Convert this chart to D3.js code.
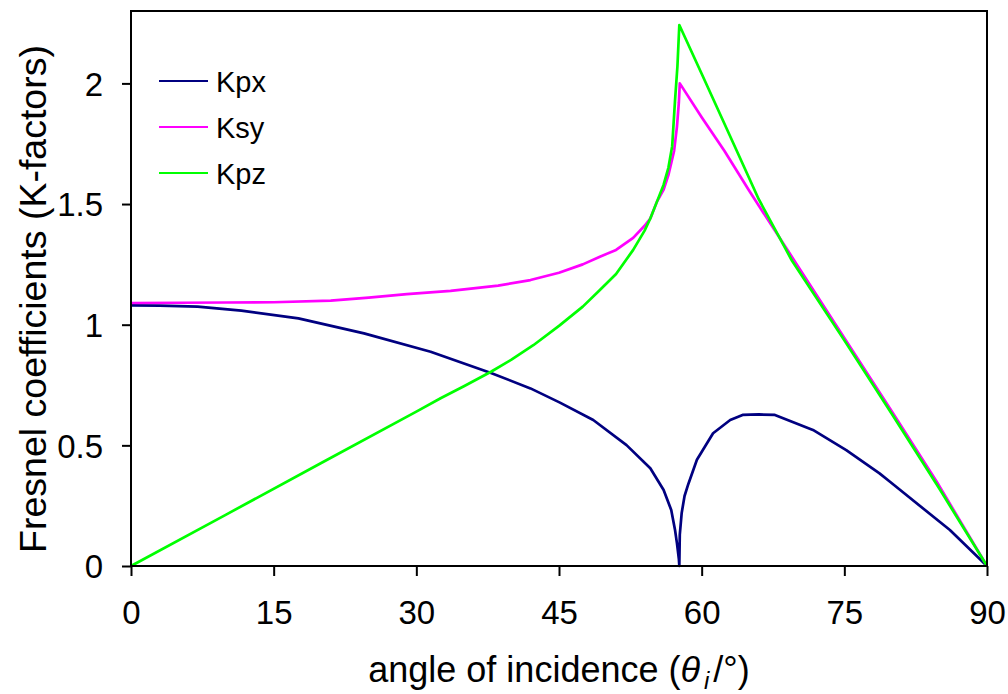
<!DOCTYPE html>
<html>
<head>
<meta charset="utf-8">
<script src="https://cdn.jsdelivr.net/npm/d3@7"></script>
<style>
  body { margin: 0; background: #fff; }
  svg text { font-family: "Liberation Sans", Arial, sans-serif; fill: #000; }
</style>
</head>
<body>
<svg id="chart" width="1008" height="694"></svg>
<script>
// angle of incidence (deg) and K value
var kpx = [[0,1.08],[3,1.079],[7,1.075],[11.6,1.058],[17.6,1.026],[24.5,0.964],[31.5,0.888],
  [37.85,0.80],[42,0.736],[45.1,0.677],[48.6,0.605],[52.1,0.501],[54.6,0.405],[56,0.315],
  [56.8,0.232],[57.2,0.149],[57.4,0.095],[57.6,0.03],[57.65,0],[57.7,0.13],[57.9,0.22],
  [58.2,0.29],[58.6,0.34],[59.5,0.44],[61.2,0.55],[63,0.605],[64.3,0.626],[66,0.628],
  [67.7,0.626],[71.7,0.564],[75.2,0.48],[78.7,0.384],[79.8,0.349],[86.1,0.149],[90,0]];
var ksy = [[0,1.09],[10,1.092],[15,1.093],[21,1.10],[25,1.112],[29,1.127],[33.6,1.14],
  [38.6,1.162],[42,1.185],[45,1.215],[47.5,1.25],[49.3,1.282],[51,1.31],[52.8,1.36],
  [54,1.41],[54.6,1.44],[55.3,1.51],[56,1.56],[56.5,1.62],[57.1,1.72],[57.4,1.82],
  [57.6,1.92],[57.7,2.0],[60,1.86],[62.4,1.72],[65,1.555],[70,1.25],[75,0.945],
  [80,0.64],[84.7,0.35],[90,0]];
var kpz = [[0,0],[10,0.213],[20,0.427],[30,0.64],[32.6,0.696],[35,0.745],[37.85,0.805],
  [40,0.855],[42.3,0.915],[45,0.995],[47.5,1.075],[49.3,1.144],[51,1.21],[52.8,1.31],
  [54,1.39],[54.6,1.44],[55.3,1.51],[56,1.58],[56.5,1.65],[56.9,1.74],[57.2,1.93],
  [57.45,2.07],[57.65,2.242],[60,2.04],[63.7,1.72],[66,1.52],[69.5,1.265],[75,0.935],
  [80,0.63],[85,0.32],[90,0]];

var seriesNames = ["Kpx", "Ksy", "Kpz"];
var seriesColors = ["#000080", "#ff00ff", "#00ff00"];
var xTicks = [0, 15, 30, 45, 60, 75, 90];
var yTicks = [0, 0.5, 1, 1.5, 2];

var svg = d3.select("#chart");
var plotL = 131, plotR = 987, plotT = 11, plotB = 566;

var x = d3.scaleLinear().domain([0, 90]).range([plotL, plotR]);
var y = d3.scaleLinear().domain([0, 2.3]).range([plotB, plotT]);

// curves
var line = d3.line()
  .x(function(d) { return x(d[0]); })
  .y(function(d) { return y(d[1]); });

var all = [kpx, ksy, kpz];
for (var i = 0; i < all.length; i++) {
  svg.append("path")
    .attr("d", line(all[i]))
    .attr("fill", "none")
    .attr("stroke", seriesColors[i])
    .attr("stroke-width", 2.7)
    .attr("stroke-linejoin", "round");
}

// frame
svg.append("rect")
  .attr("x", plotL).attr("y", plotT)
  .attr("width", plotR - plotL).attr("height", plotB - plotT)
  .attr("fill", "none").attr("stroke", "#000").attr("stroke-width", 2);

// axes
var xAxis = svg.append("g")
  .attr("transform", "translate(0," + plotB + ")")
  .call(d3.axisBottom(x).tickValues(xTicks).tickSize(10).tickPadding(25).tickFormat(d3.format("d")));
var yAxis = svg.append("g")
  .attr("transform", "translate(" + plotL + ",0)")
  .call(d3.axisLeft(y).tickValues(yTicks).tickSize(9).tickPadding(19).tickFormat(function(d) { return String(d); }));

[xAxis, yAxis].forEach(function(g) {
  g.select(".domain").remove();
  g.selectAll(".tick line").attr("stroke", "#000").attr("stroke-width", 2);
  g.selectAll(".tick text").style("font-size", "33px").attr("fill", "#000");
});
yAxis.selectAll(".tick text").attr("dy", "0.36em");

// axis titles
var xt = svg.append("text")
  .attr("x", (plotL + plotR) / 2).attr("y", 682)
  .attr("text-anchor", "middle")
  .style("font-size", "36px");
xt.append("tspan").text("angle of incidence (");
xt.append("tspan").style("font-style", "italic").text("θ");
xt.append("tspan").style("font-style", "italic").style("font-size", "24px").attr("dx", 4).attr("dy", 7).text("i");
xt.append("tspan").attr("dy", -7).attr("dx", 4).text("/°)");

svg.append("text")
  .attr("transform", "translate(46,299) rotate(-90)")
  .attr("text-anchor", "middle")
  .style("font-size", "37.5px")
  .text("Fresnel coefficients (K-factors)");

// legend
for (var j = 0; j < seriesNames.length; j++) {
  var ly = 81 + j * 46;
  svg.append("line")
    .attr("x1", 159).attr("x2", 208)
    .attr("y1", ly).attr("y2", ly)
    .attr("stroke", seriesColors[j]).attr("stroke-width", 2);
  svg.append("text")
    .attr("x", 216).attr("y", ly + 11)
    .style("font-size", "29px")
    .text(seriesNames[j]);
}
</script>
</body>
</html>
